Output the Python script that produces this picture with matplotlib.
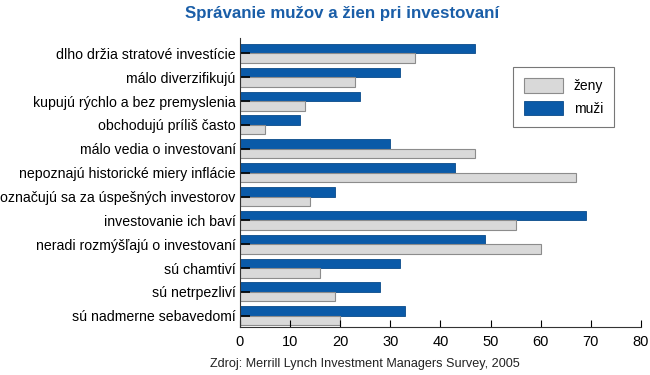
import numpy as np
import matplotlib
matplotlib.use('Agg')
import matplotlib.pyplot as plt

plt.rcParams['font.family'] = ['Liberation Sans', 'DejaVu Sans']

kategorie = ['dlho držia stratové investície', 'málo diverzifikujú',
             'kupujú rýchlo a bez premyslenia', 'obchodujú príliš často',
             'málo vedia o investovaní', 'nepoznajú historické miery inflácie',
             'označujú sa za úspešných investorov', 'investovanie ich baví',
             'neradi rozmýšľajú o investovaní', 'sú chamtiví',
             'sú netrpezliví', 'sú nadmerne sebavedomí']
muzi = [47, 32, 24, 12, 30, 43, 19, 69, 49, 32, 28, 33]
zeny = [35, 23, 13, 5, 47, 67, 14, 55, 60, 16, 19, 20]

modra = '#0a5aa8'
seda = '#d9d9d9'

fig = plt.figure(figsize=(6.5, 3.75), dpi=100)
ax = fig.add_axes([0.369, 0.128, 0.617, 0.771])

y = np.arange(len(kategorie))
h = 0.4
ax.barh(y - h / 2, muzi, height=h, color=modra, edgecolor='#0a4a8a', linewidth=0.6, label='muži')
ax.barh(y + h / 2, zeny, height=h, color=seda, edgecolor='#8c8c8c', linewidth=0.8, label='ženy')

ax.set_xlim(0, 80)
ax.set_ylim(len(kategorie) - 1 + 0.47, -0.65)
ax.set_yticks(y)
ax.set_yticklabels(kategorie, fontsize=10.2)
ax.set_xticks(range(0, 81, 10))
ax.tick_params(axis='x', direction='in', length=5, labelsize=10.5, pad=6)
ax.tick_params(axis='y', direction='in', length=7, width=1.2, pad=3)
for s in ['top', 'right']:
    ax.spines[s].set_visible(False)
ax.spines['left'].set_color('#333333')
ax.spines['bottom'].set_color('#333333')

# legenda: ženy hore, muži dole
handles, labels = ax.get_legend_handles_labels()
leg = ax.legend(handles[::-1], labels[::-1], loc='upper left', bbox_to_anchor=(0.663, 0.922),
                fontsize=10, frameon=True, fancybox=False, edgecolor='#555555',
                handlelength=2.8, handleheight=1.2, borderpad=0.8, labelspacing=0.55)
leg.get_frame().set_linewidth(0.8)

fig.text(0.526, 0.965, 'Správanie mužov a žien pri investovaní', ha='center', va='center',
         fontsize=12.2, fontweight='bold', color='#1a5ea8')
fig.text(0.5615, 0.03, 'Zdroj: Merrill Lynch Investment Managers Survey, 2005', ha='center',
         va='center', fontsize=9.1, color='#222222')

fig.savefig('out.png', dpi=100)
